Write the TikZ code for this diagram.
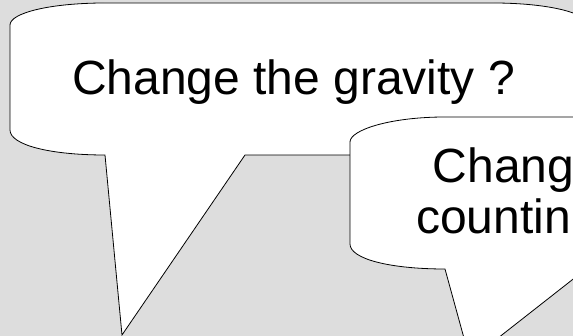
\documentclass[tikz,border=0pt]{standalone}
\usepackage{fontspec}
\setmainfont{Liberation Sans}
\definecolor{bg}{HTML}{DDDDDD}
\tikzset{
  bubble/.style={draw=black, fill=white, line width=0.8pt, line join=miter},
  bigtext/.style={inner sep=0pt, font=\fontsize{48}{53}\selectfont, text=black}
}
\begin{document}
\begin{tikzpicture}[x=1pt, y=-1pt]
\fill[bg] (0,0) rectangle (573,336);
\useasboundingbox (0,0) rectangle (573,336);
% bubble 1
\draw[bubble] (105,3) -- (493,3)
  .. controls (548,3) and (588,13) .. (588,25)
  -- (588,130)
  .. controls (588,145) and (548,155) .. (493,155)
  -- (245,155) -- (122,335) -- (105,155)
  .. controls (50,155) and (10,145) .. (10,130)
  -- (10,25)
  .. controls (10,13) and (50,3) .. (105,3) -- cycle;
\node[bigtext, anchor=base] (t1) at (293.5,95) {Change the gravity ?};
% bubble 2
\draw[bubble] (445,117) -- (833,117)
  .. controls (888,117) and (928,127) .. (928,139)
  -- (928,244)
  .. controls (928,259) and (888,269) .. (833,269)
  -- (586,269) -- (470,360) -- (445,269)
  .. controls (390,269) and (350,259) .. (350,244)
  -- (350,142)
  .. controls (350,130) and (390,117) .. (445,117) -- cycle;
\node[bigtext, anchor=base west] (t2) at (432.5,183) {Chang};
\node[bigtext, anchor=base west] (t3) at (416,234) {countin};
\end{tikzpicture}
\end{document}
